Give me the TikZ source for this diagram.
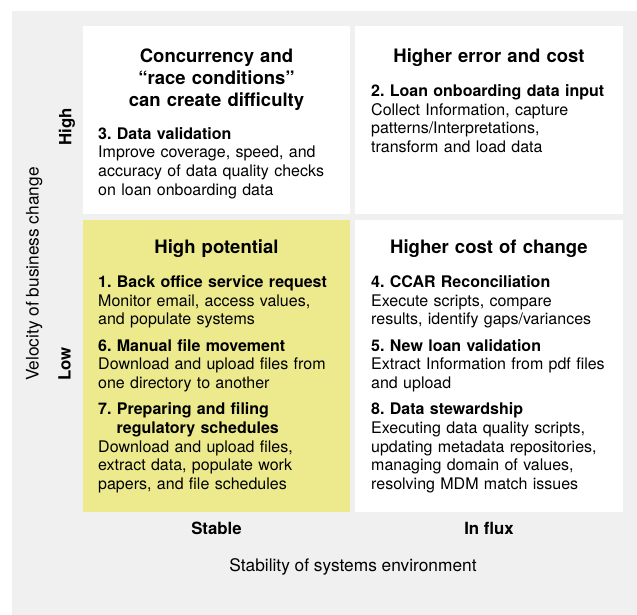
\documentclass[tikz,border=0pt]{standalone}
\usepackage{fontspec}
\setmainfont{TeX Gyre Heros}
\frenchspacing
\definecolor{bggray}{RGB}{240,240,240}
\definecolor{hiyellow}{RGB}{236,234,140}
\begin{document}
\frenchspacing
\begin{tikzpicture}[x=1pt,y=-1pt,
  body/.style={anchor=base west, inner sep=0pt, text width=250pt, align=left, font=\fontsize{16}{18.6}\selectfont\frenchspacing},
  qtitle/.style={anchor=base, inner sep=0pt, text width=260pt, align=center, font=\bfseries\fontsize{18.5}{22}\selectfont},
  axislabel/.style={inner sep=0pt, anchor=base, font=\fontsize{17.3}{20}\selectfont},
  levellabel/.style={inner sep=0pt, anchor=base, font=\bfseries\fontsize{16.8}{20}\selectfont}]
\useasboundingbox (0,0) rectangle (637,615);
\fill[white] (0,0) rectangle (637,615);
\fill[bggray] (12,11) rectangle (637,615);
% quadrants
\fill[white] (83,26) rectangle (350,214);
\fill[white] (355,26) rectangle (623,214);
\fill[hiyellow] (83,220) rectangle (350,512);
\fill[white] (355,220) rectangle (623,512);
% titles
\node[qtitle] (t1) at (216.5,62.3) {Concurrency and\\“race conditions”\\can create difficulty};
\node[qtitle] (t2) at (489,62.3) {Higher error and cost};
\node[qtitle] (t3) at (216.5,253.5) {High potential};
\node[qtitle] (t4) at (489,253.5) {Higher cost of change};
% bodies
\node[body] (b1) at (98,139.3) {\textbf{3. Data validation}\\Improve coverage, speed, and\\accuracy of data quality checks\\on loan onboarding data};
\node[body] (b2) at (371,96.5) {\textbf{2. Loan onboarding data input}\\Collect Information, capture\\patterns/Interpretations,\\transform and load data};
\node[body] (b3) at (98,287.5) {\textbf{1. Back office service request}\\Monitor email, access values,\\and populate systems\\[7.9pt]\textbf{6. Manual file movement}\\Download and upload files from\\one directory to another\\[7.9pt]\textbf{7. Preparing and filing}\\\hspace*{18.5pt}\textbf{regulatory schedules}\\Download and upload files,\\extract data, populate work\\papers, and file schedules};
\node[body] (b4) at (371,287.5) {\textbf{4. CCAR Reconciliation}\\Execute scripts, compare\\results, identify gaps/variances\\[7.9pt]\textbf{5. New loan validation}\\Extract Information from pdf files\\and upload\\[7.9pt]\textbf{8. Data stewardship}\\Executing data quality scripts,\\updating metadata repositories,\\managing domain of values,\\resolving MDM match issues};
% axis levels
\node[levellabel, rotate=90] (high) at (71.3,126.5) {High};
\node[levellabel, rotate=90] (low) at (70.5,364) {Low};
\node[axislabel, rotate=90] (vel) at (38.5,274) {Velocity of business change};
\node[levellabel] (stable) at (216.5,534.5) {Stable};
\node[levellabel] (influx) at (489,534.5) {In flux};
\node[axislabel] (stab) at (353,571) {Stability of systems environment};
\end{tikzpicture}
\end{document}
